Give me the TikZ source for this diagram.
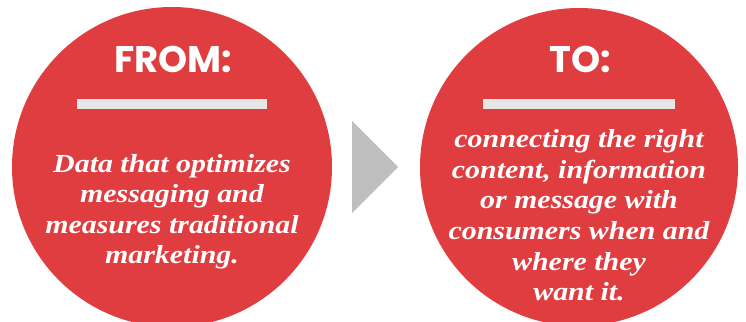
\documentclass[tikz,border=0pt]{standalone}
\usepackage{fontspec}
\newfontfamily\headfont{Poppins}
\newfontfamily\bodyfont{Liberation Serif}[FakeStretch=1.15]
\definecolor{circred}{RGB}{224,61,65}
\definecolor{barcol}{RGB}{230,230,230}
\definecolor{arrowgray}{RGB}{191,191,191}
\tikzset{
  bigcircle/.style={fill=circred, draw=none},
  headtext/.style={text=white, font=\headfont\bfseries\fontsize{37}{40}\selectfont, anchor=base, inner sep=0pt},
  bodyline/.style={text=white, font=\bodyfont\bfseries\itshape\fontsize{26}{30}\selectfont, anchor=base, inner sep=0pt},
  barstyle/.style={fill=barcol, draw=none},
}
\begin{document}
\begin{tikzpicture}[x=1pt,y=-1pt]
\useasboundingbox (0,0) rectangle (746,321);
\clip (0,0) rectangle (746,321);
% circles
\fill[bigcircle] (172,167) circle[radius=160];
\fill[bigcircle] (579,167) circle[radius=159];
% arrow
\fill[arrowgray] (352,121) -- (398,167) -- (352,213) -- cycle;
% bars
\fill[barstyle] (77,99) rectangle (267,109);
\fill[barstyle] (483,99) rectangle (675,109);
% headings
\node[headtext] (from) at (173,72) {FROM:};
\node[headtext] (to) at (580,72) {TO:};
% left body
\node[bodyline] (l1) at (172,172) {Data that optimizes};
\node[bodyline] (l2) at (172,202) {messaging and};
\node[bodyline] (l3) at (172,233) {measures traditional};
\node[bodyline] (l4) at (172,263) {marketing.};
% right body
\node[bodyline] (r1) at (579,147) {connecting the right};
\node[bodyline] (r2) at (579,178) {content, information};
\node[bodyline] (r3) at (579,208) {or message with};
\node[bodyline] (r4) at (579,239) {consumers when and};
\node[bodyline] (r5) at (579,270) {where they};
\node[bodyline] (r6) at (579,300) {want it.};
\end{tikzpicture}
\end{document}
